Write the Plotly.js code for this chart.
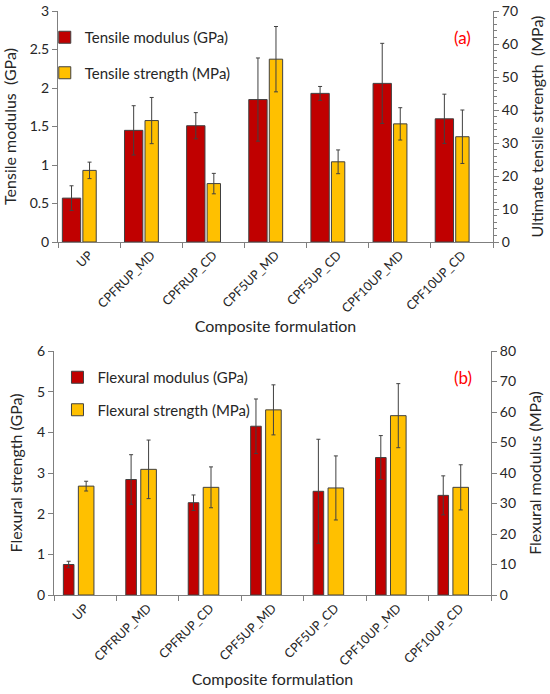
<!DOCTYPE html>
<html>
<head>
<meta charset="utf-8">
<script src="https://cdn.plot.ly/plotly-3.0.1.min.js"></script>
<style>html,body{margin:0;padding:0;background:#fff;}#chart{width:550px;height:694px;}</style>
</head>
<body>
<div id="chart"></div>
<script>
const categories = ["UP","CPFRUP_MD","CPFRUP_CD","CPF5UP_MD","CPF5UP_CD","CPF10UP_MD","CPF10UP_CD"];

// Panel (a)
const tensileModulus = [0.57, 1.45, 1.51, 1.85, 1.93, 2.06, 1.60];
const tensileModulusErr = [0.16, 0.32, 0.17, 0.54, 0.09, 0.52, 0.32];
const tensileStrength = [21.7, 36.8, 17.7, 55.4, 24.3, 35.8, 31.9];
const tensileStrengthErr = [2.5, 7.0, 3.1, 9.9, 3.6, 4.9, 8.1];

// Panel (b)
const flexuralModulus = [0.75, 2.84, 2.27, 4.15, 2.55, 3.38, 2.45];
const flexuralModulusErr = [0.08, 0.61, 0.19, 0.67, 1.28, 0.54, 0.48];
const flexuralStrength = [35.7, 41.2, 35.3, 60.7, 35.1, 58.8, 35.3];
const flexuralStrengthErr = [1.6, 9.6, 6.7, 8.2, 10.5, 10.5, 7.4];

const RED = "#C00000", YEL = "#FFC000", EDGE = "#404040", TXT = "#262626", AX = "#7F7F7F";
const FONT = "Lato, 'Open Sans', sans-serif";

function bar(y, err, color, name, xa, ya, offset, width, legend) {
  return {
    type: "bar", x: categories, y: y, name: name, xaxis: xa, yaxis: ya,
    offset: offset, width: width, legend: legend,
    marker: {color: color, line: {color: EDGE, width: 1}},
    error_y: {type: "data", array: err, visible: true, color: "#404040", thickness: 1, width: 2}
  };
}

const traces = [
  bar(tensileModulus, tensileModulusErr, RED, "Tensile modulus (GPa)", "x", "y", -0.43, 0.295, "legend"),
  bar(tensileStrength, tensileStrengthErr, YEL, "Tensile strength (MPa)", "x", "y2", -0.10, 0.215, "legend"),
  bar(flexuralModulus, flexuralModulusErr, RED, "Flexural modulus (GPa)", "x2", "y3", -0.35, 0.17, "legend2"),
  bar(flexuralStrength, flexuralStrengthErr, YEL, "Flexural strength (MPa)", "x2", "y4", -0.11, 0.25, "legend2")
];
traces[0].legendgroup = "a1"; traces[1].legendgroup = "a2";
traces[2].legendgroup = "b1"; traces[3].legendgroup = "b2";

const tickFont = {family: FONT, size: 14, color: TXT};
const catFont = {family: FONT, size: 12.5, color: TXT};
const titleFont = {family: FONT, size: 16, color: TXT};

function xax(domain, anchor) {
  return {
    domain: domain, anchor: anchor, type: "category", tickangle: -45, tickfont: catFont,
    ticks: "outside", tickson: "boundaries", ticklen: 5, tickcolor: AX,
    showline: true, linecolor: AX, linewidth: 1, showgrid: false, zeroline: false,
    automargin: false,
    title: {text: "Composite formulation", font: titleFont, standoff: 3}
  };
}
function yax(domain, anchor, range, dtick, title, side, overlay, minor, standoff) {
  const a = {
    domain: domain, anchor: anchor, range: range, dtick: dtick, tick0: 0, tickfont: tickFont,
    ticks: "outside", ticklen: 5, tickcolor: AX, showline: true, linecolor: AX, linewidth: 1,
    showgrid: false, zeroline: false, automargin: false, fixedrange: true,
    title: {text: title, font: titleFont, standoff: standoff}
  };
  if (side) a.side = side;
  if (overlay) a.overlaying = overlay;
  if (minor) a.minor = {dtick: minor, ticks: "outside", ticklen: 3, tickcolor: AX, showgrid: false};
  return a;
}

const layout = {
  width: 550, height: 694,
  margin: {l: 0, r: 0, t: 0, b: 0},
  paper_bgcolor: "#fff", plot_bgcolor: "#fff",
  font: {family: FONT, color: TXT},
  barmode: "overlay",
  showlegend: true,
  xaxis: xax([58/550, 493/550], "y"),
  yaxis: yax([1-242/694, 1-11/694], "x", [0, 3], 0.5, "Tensile modulus  (GPa)", null, null, null, 10),
  yaxis2: yax([1-242/694, 1-11/694], "x", [0, 70], 10, "Ultimate tensile strength  (MPa)", "right", "y", 2, 14),
  xaxis2: xax([54/550, 491/550], "y3"),
  yaxis3: yax([1-595/694, 1-351/694], "x2", [0, 6], 1, "Flexural strength (GPa)", null, null, null, 10),
  yaxis4: yax([1-595/694, 1-351/694], "x2", [0, 80], 10, "Flexural modulus (MPa)", "right", "y3", null, 14),
  legend: {x: 0.0814, y: 1-21/694, xanchor: "left", yanchor: "top", traceorder: "grouped",
           tracegroupgap: 13, font: {family: FONT, size: 15, color: TXT}, bgcolor: "rgba(0,0,0,0)"},
  legend2: {x: 0.1045, y: 1-361/694, xanchor: "left", yanchor: "top", traceorder: "grouped",
            tracegroupgap: 10, font: {family: FONT, size: 15, color: TXT}, bgcolor: "rgba(0,0,0,0)"},
  annotations: [
    {text: "(a)", xref: "paper", yref: "paper", x: 452/550, y: 1-37/694, xanchor: "left", yanchor: "middle",
     showarrow: false, font: {family: FONT, size: 17, color: "#FF0000"}},
    {text: "(b)", xref: "paper", yref: "paper", x: 452/550, y: 1-377/694, xanchor: "left", yanchor: "middle",
     showarrow: false, font: {family: FONT, size: 17, color: "#FF0000"}}
  ]
};

Plotly.newPlot("chart", traces, layout, {staticPlot: true, displayModeBar: false});
</script>
</body>
</html>
